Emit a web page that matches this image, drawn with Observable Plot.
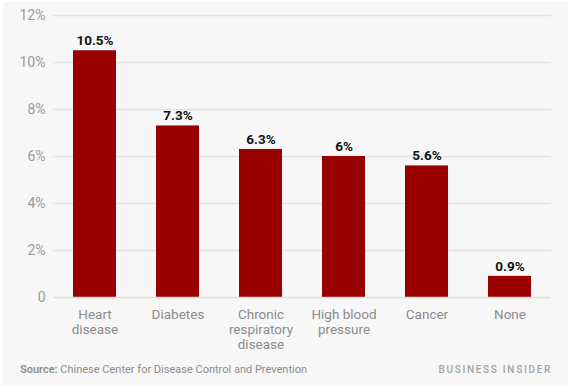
<!DOCTYPE html>
<html>
<head>
<meta charset="utf-8">
<script src="https://cdn.jsdelivr.net/npm/d3@7"></script>
<script src="https://cdn.jsdelivr.net/npm/@observablehq/plot@0.6"></script>
<style>
  html, body { margin: 0; padding: 0; background: #ffffff; width: 570px; height: 389px; overflow: hidden; }
  #frame { position: absolute; left: 3px; top: 2px; width: 565px; height: 383px; background: #f7f7f7; }
  #chart { position: absolute; left: 0; top: 0; }
  #chart svg { background: transparent; overflow: visible; }
  .foot { position: absolute; font-family: Roboto, sans-serif; color: #8c8c8c; white-space: nowrap; }
  #source { left: 20px; top: 363px; font-size: 11px; }
  #source b { font-weight: 600; }
  #brand { right: 18px; top: 364px; font-size: 10px; letter-spacing: 1.7px; font-weight: 500; color: #a3a3a3; }
</style>
</head>
<body>
<div id="frame"></div>
<div id="chart"></div>
<div id="source" class="foot"><b>Source:</b> Chinese Center for Disease Control and Prevention</div>
<div id="brand" class="foot">BUSINESS INSIDER</div>
<script>
const categories = ["Heart\ndisease", "Diabetes", "Chronic\nrespiratory\ndisease", "High blood\npressure", "Cancer", "None"];
const values = [10.5, 7.3, 6.3, 6, 5.6, 0.9];
const valueLabels = ["10.5%", "7.3%", "6.3%", "6%", "5.6%", "0.9%"];
const yTicks = [0, 2, 4, 6, 8, 10, 12];

const data = categories.map((c, i) => ({category: c, value: values[i], label: valueLabels[i]}));

const chart = Plot.plot({
  width: 570,
  height: 350,
  marginLeft: 53,
  marginRight: 19,
  marginTop: 15,
  marginBottom: 53,
  style: {fontFamily: "Roboto, sans-serif", background: "transparent"},
  x: {domain: categories, paddingInner: 0.48, paddingOuter: 0.24, label: null},
  y: {domain: [0, 12], label: null},
  marks: [
    Plot.ruleY(yTicks.filter(d => d > 0), {stroke: "#e3e3e3", strokeWidth: 1.5}),
    Plot.axisY({ticks: yTicks, tickSize: 0, tickPadding: 8, tickFormat: d => d === 0 ? "0" : d + "%", fontSize: 14, fill: "#9a9a9a", label: null}),
    Plot.axisX({tickSize: 0, tickPadding: 11, fontSize: 13.5, fill: "#8c8c8c", lineHeight: 1.1, label: null}),
    Plot.barY(data, {x: "category", y: "value", fill: "#990000"}),
    Plot.ruleY([0], {stroke: "#dedede", strokeWidth: 1.5}),
    Plot.text(data, {x: "category", y: "value", text: "label", dy: -10, fontSize: 13.5, fontWeight: "bold", fill: "#111"})
  ]
});
document.getElementById("chart").appendChild(chart);
</script>
</body>
</html>
